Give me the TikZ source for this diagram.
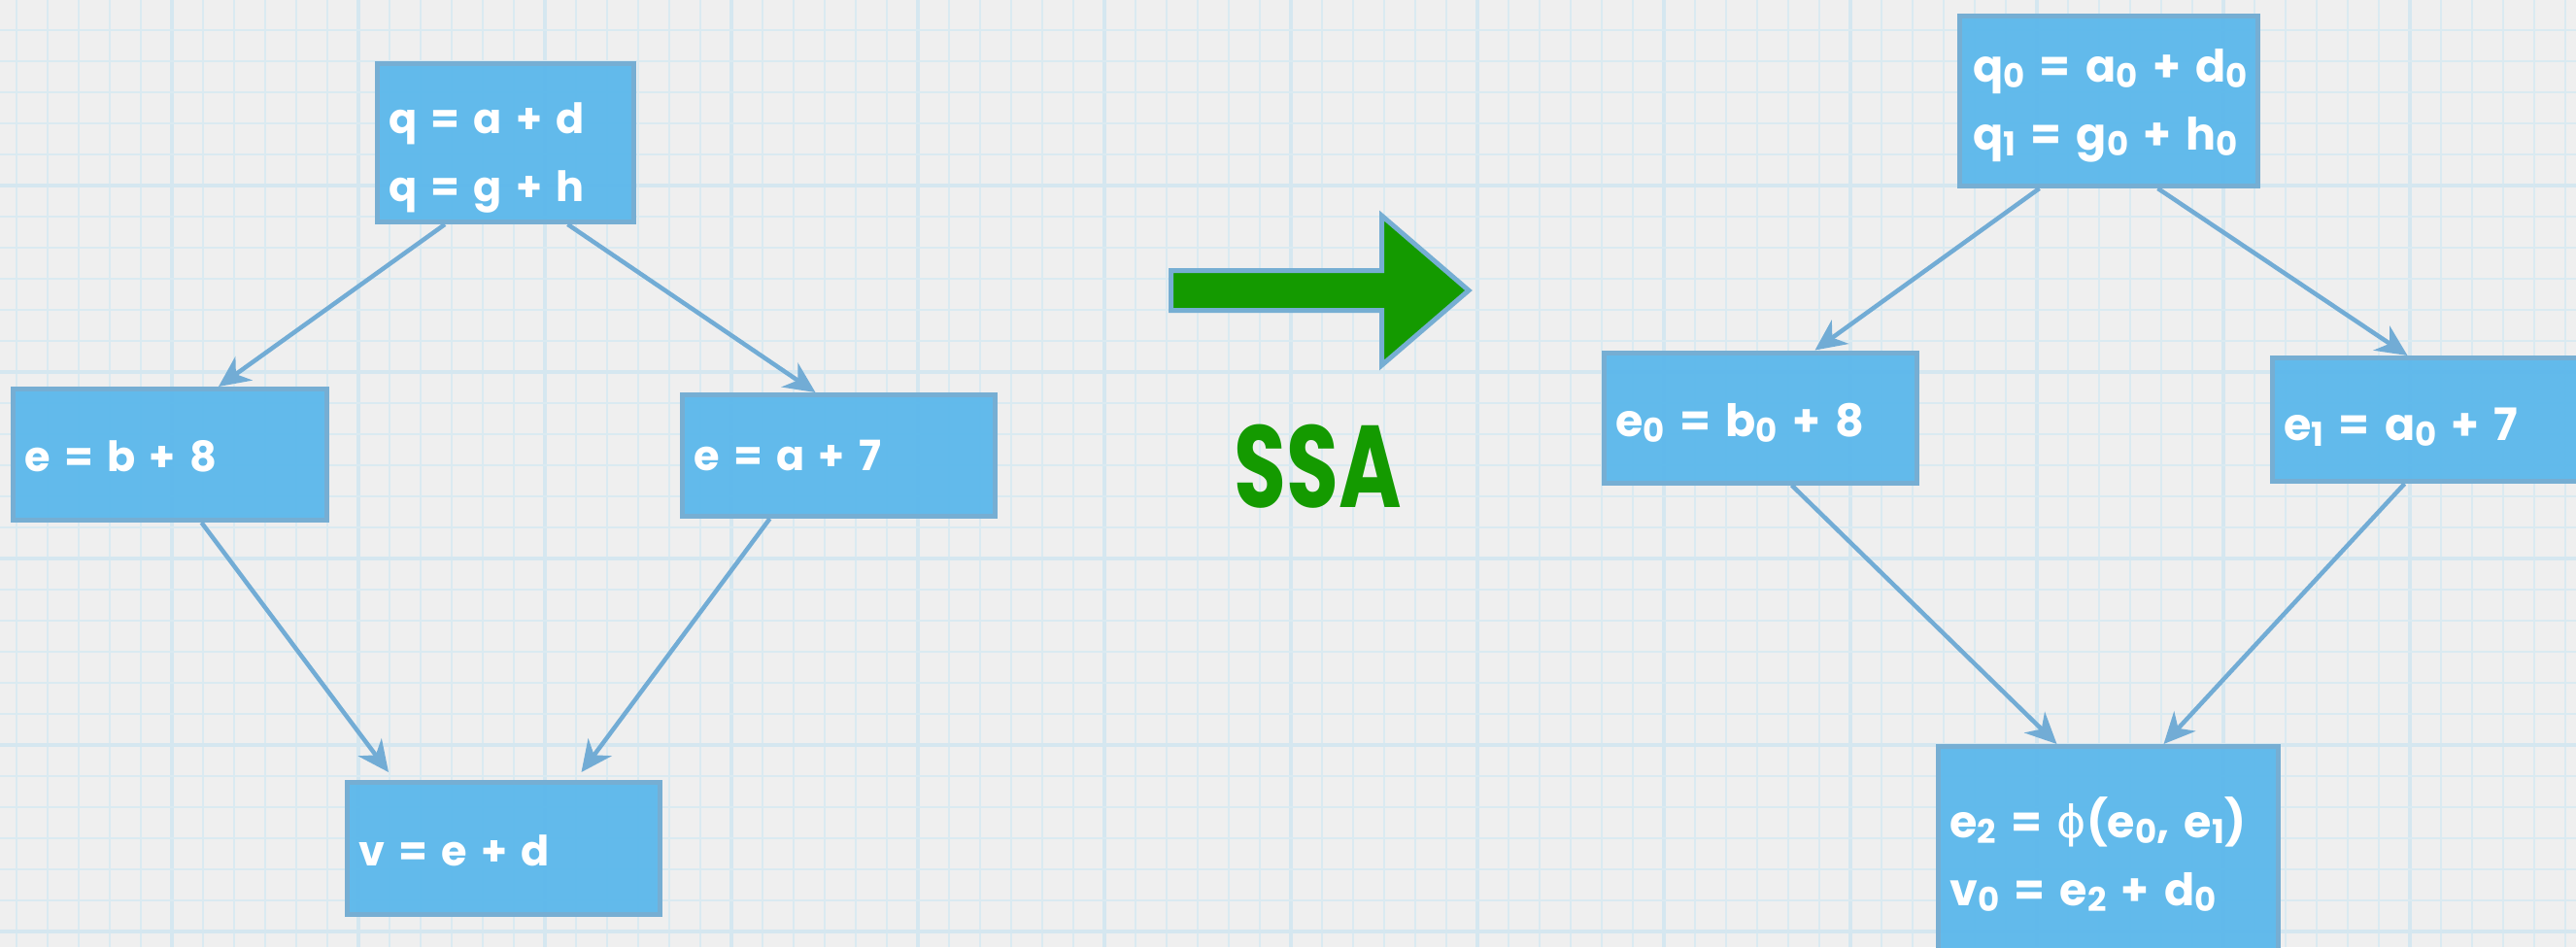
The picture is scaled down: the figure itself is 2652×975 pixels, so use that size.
\documentclass[tikz,border=0pt]{standalone}
\usepackage{fontspec}
\setmainfont{Poppins}
\newfontfamily\grk{DejaVu Sans}
\usetikzlibrary{arrows.meta}
\definecolor{paper}{HTML}{EFEFEF}
\definecolor{gridline}{HTML}{DAEAF1}
\definecolor{gridmajor}{HTML}{D5E7F0}
\definecolor{boxfill}{HTML}{5AB7EB}
\definecolor{boxedge}{HTML}{76AED3}
\definecolor{edgeblue}{HTML}{72ACD5}
\definecolor{ssagreen}{HTML}{149A00}
% lowered index digit
\newcommand\lo[1]{\raisebox{-6pt}{\fontsize{34}{34}\selectfont #1}}
\newcommand\phisym{{\grk\mdseries ϕ}}

\begin{document}
\begin{tikzpicture}[x=1pt,y=-1pt,
  blk/.style={rectangle, draw=boxedge, line width=5pt, fill=boxfill,
    fill opacity=0.94, inner sep=0pt},
  txt/.style={text=white, align=left, anchor=west, inner sep=0pt,
    text width=300pt, font=\fontsize{46}{70}\selectfont\bfseries},
  small/.style={font=\fontsize{43}{70}\selectfont\bfseries},
  edge/.style={draw=edgeblue, line width=4.5pt,
    -{Stealth[length=32pt,width=30pt,inset=10pt]}}]

\useasboundingbox (0,0) rectangle (2652,975);
\fill[paper] (0,0) rectangle (2652,975);

% squared paper
\foreach \k in {0,...,82}{
  \pgfmathtruncatemacro{\m}{mod(\k,6)}
  \ifnum\m=5
    \draw[gridmajor, line width=3.5pt] ({17+32*\k},0) -- ({17+32*\k},975);
  \else
    \draw[gridline, line width=2.5pt] ({17+32*\k},0) -- ({17+32*\k},975);
  \fi
}
\foreach \k in {0,...,29}{
  \pgfmathtruncatemacro{\m}{mod(\k,6)}
  \ifnum\m=5
    \draw[gridmajor, line width=3.5pt] (0,{31+32*\k}) -- (2652,{31+32*\k});
  \else
    \draw[gridline, line width=2.5pt] (0,{31+32*\k}) -- (2652,{31+32*\k});
  \fi
}

% original program
\node[blk, minimum width=264pt, minimum height=163pt] (qa) at (520.5,147) {};
\node[blk, minimum width=323pt, minimum height=135pt] (eb) at (175,468) {};
\node[blk, minimum width=322pt, minimum height=125pt] (ea) at (863.5,469) {};
\node[blk, minimum width=322pt, minimum height=136pt] (ve) at (518.5,873.5) {};

\node[txt, small] (qa-t) at ([xshift=14pt,yshift=-15pt]qa.west) {q = a + d\\q = g + h};
\node[txt, small] (eb-t) at ([xshift=14pt,yshift=-2pt]eb.west) {e = b + 8};
\node[txt, small] (ea-t) at ([xshift=14pt]ea.west) {e = a + 7};
\node[txt, small] (ve-t) at ([xshift=14pt,yshift=-2pt]ve.west) {v = e + d};

% SSA form
\node[blk, minimum width=307pt, minimum height=175pt] (q0) at (2171,104) {};
\node[blk, minimum width=322pt, minimum height=134pt] (e0) at (1812.5,430) {};
\node[blk, minimum width=323pt, minimum height=127pt] (e1) at (2501,432) {};
\node[blk, minimum width=350pt, minimum height=239pt] (e2) at (2170.5,888) {};

\node[txt] (q0-t) at ([xshift=16pt,yshift=-5pt]q0.west) {\mbox{q\lo{0} = a\lo{0} + d\lo{0}}\\\mbox{q\lo{1} = g\lo{0} + h\lo{0}}};
\node[txt] (e0-t) at ([xshift=14pt,yshift=-5pt]e0.west) {e\lo{0} = b\lo{0} + 8};
\node[txt] (e1-t) at ([xshift=14pt,yshift=-8pt]e1.west) {e\lo{1} = a\lo{0} + 7};
\node[txt] (e2-t) at ([xshift=14pt,yshift=9pt]e2.west) {\mbox{e\lo{2} = \phisym(e\lo{0}, e\lo{1})}\\\mbox{v\lo{0} = e\lo{2} + d\lo{0}}};

% control-flow edges
\draw[edge] ([xshift=72pt]qa.south west) -- ([xshift=214pt]eb.north west);
\draw[edge] ([xshift=198.5pt]qa.south west) -- ([xshift=139.5pt]ea.north west);
\draw[edge] ([xshift=196.5pt]eb.south west) -- ([xshift=45pt,yshift=8pt]ve.north west);
\draw[edge] ([xshift=92.5pt]ea.south west) -- ([xshift=243.5pt,yshift=8pt]ve.north west);

\draw[edge] ([xshift=84.5pt]q0.south west) -- ([xshift=219.5pt]e0.north west);
\draw[edge] ([xshift=206.5pt]q0.south west) -- ([xshift=141.5pt]e1.north west);
\draw[edge] ([xshift=195.5pt]e0.south west) -- ([xshift=124.5pt]e2.north west);
\draw[edge] ([xshift=138.5pt]e1.south west) -- ([xshift=234.5pt]e2.north west);

% transformation arrow
\draw[boxedge, line width=5pt, fill=ssagreen, line join=miter]
  (1205.5,278.5) -- (1422.5,278.5) -- (1422.5,222) -- (1512,299)
  -- (1422.5,376) -- (1422.5,319.5) -- (1205.5,319.5) -- cycle;
\node[text=ssagreen, font=\fontsize{120}{120}\selectfont\bfseries] (ssa) at (1357,480) {\scalebox{0.73}[1]{SSA}};
\end{tikzpicture}
\end{document}
